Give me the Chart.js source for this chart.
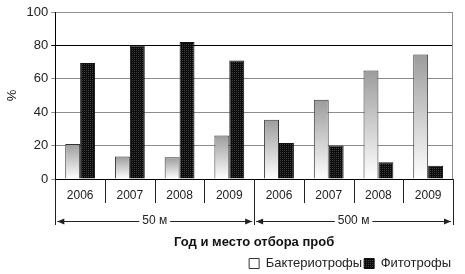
<!DOCTYPE html>
<html>
<head>
<meta charset="UTF-8">
<title>Бактериотрофы и фитотрофы</title>
<script src="https://cdn.jsdelivr.net/npm/chart.js@4/dist/chart.umd.min.js"></script>
<style>
    body { margin: 0; background: #fff; }
    #wrap { width: 465px; height: 274px; }
</style>
</head>
<body>
<div id="wrap"><canvas id="myChart"></canvas></div>
<script>
    var years = ['2006', '2007', '2008', '2009', '2006', '2007', '2008', '2009'];
    var places = ['50 м', '500 м'];
    var bacterio = [21, 13.5, 13, 26, 35.5, 47.5, 65, 74.5];
    var phyto = [69.5, 80, 82, 71, 21.5, 20, 10, 8];
    var yTicks = [0, 20, 40, 60, 80, 100];

    var font = 'Liberation Sans, Arial, sans-serif';
    var canvas = document.getElementById('myChart');
    var c2d = canvas.getContext('2d');

    // dotted black fill for the phyto bars
    function makePattern() {
        var p = document.createElement('canvas');
        p.width = 2; p.height = 2;
        var g = p.getContext('2d');
        g.fillStyle = '#0c0c0c';
        g.fillRect(0, 0, 2, 2);
        g.fillStyle = '#3c3c3c';
        g.fillRect(0, 0, 1, 1);
        return c2d.createPattern(p, 'repeat');
    }
    var phytoFill = makePattern();

    function bacterioFill(ctx) {
        var chart = ctx.chart;
        if (ctx.type !== 'data' || !chart.chartArea) return '#e6e6e6';
        var y = chart.scales.y;
        var top = y.getPixelForValue(ctx.raw);
        var bottom = y.getPixelForValue(0);
        var g = chart.ctx.createLinearGradient(0, top, 0, bottom);
        g.addColorStop(0, '#9c9c9c');
        g.addColorStop(1, '#ffffff');
        return g;
    }

    function line(ctx, x0, y0, x1, y1) {
        ctx.beginPath();
        ctx.moveTo(x0, y0);
        ctx.lineTo(x1, y1);
        ctx.stroke();
    }

    function arrowHead(ctx, x, y, dir) {
        ctx.beginPath();
        ctx.moveTo(x, y);
        ctx.lineTo(x - dir * 7, y - 3);
        ctx.lineTo(x - dir * 7, y + 3);
        ctx.closePath();
        ctx.fill();
    }

    var groupsPlugin = {
        id: 'groups',
        afterDraw: function (chart) {
            var x = chart.scales.x, ctx = chart.ctx, area = chart.chartArea;
            var n = years.length, per = n / places.length;
            var half = (x.getPixelForValue(1) - x.getPixelForValue(0)) / 2;
            function edge(i) {
                return i < n ? x.getPixelForValue(i) - half : x.getPixelForValue(n - 1) + half;
            }
            ctx.save();
            ctx.lineWidth = 1;
            ctx.strokeStyle = '#8c8c8c';
            line(ctx, Math.round(area.right) - 0.5, area.top, Math.round(area.right) - 0.5, area.bottom);

            ctx.strokeStyle = '#222';
            for (var i = 0; i <= n; i++) {
                var px = Math.round(edge(i)) + 0.5;
                var len = (i % per === 0) ? 46 : 24;
                line(ctx, px, area.bottom, px, area.bottom + len);
            }

            var ya = Math.round(area.bottom + 42) + 0.5;
            ctx.fillStyle = '#222';
            ctx.font = '12px ' + font;
            ctx.textAlign = 'center';
            ctx.textBaseline = 'middle';
            for (var g = 0; g < places.length; g++) {
                var x0 = edge(g * per) + 2, x1 = edge((g + 1) * per) - 2;
                var mid = (x0 + x1) / 2;
                var w = ctx.measureText(places[g]).width;
                line(ctx, x0, ya, mid - w / 2 - 3, ya);
                line(ctx, mid + w / 2 + 3, ya, x1, ya);
                arrowHead(ctx, x0, ya, -1);
                arrowHead(ctx, x1, ya, 1);
                ctx.fillText(places[g], mid, ya - 1);
            }
            ctx.restore();
        }
    };

    new Chart(canvas, {
        type: 'bar',
        data: {
            labels: years,
            datasets: [{
                label: 'Бактериотрофы',
                data: bacterio,
                backgroundColor: bacterioFill,
                borderColor: '#333',
                borderWidth: 1
            }, {
                label: 'Фитотрофы',
                data: phyto,
                backgroundColor: phytoFill,
                borderColor: '#111',
                borderWidth: 1
            }]
        },
        options: {
            responsive: true,
            maintainAspectRatio: false,
            animation: false,
            datasets: { bar: { categoryPercentage: 0.6, barPercentage: 1 } },
            layout: { padding: { top: 12, right: 12, left: 2, bottom: -6 } },
            scales: {
                x: {
                    grid: { display: false, drawTicks: false },
                    border: { color: '#000', width: 1 },
                    ticks: { font: { family: font, size: 12 }, color: '#222', padding: 9, autoSkip: false, maxRotation: 0 },
                    title: {
                        display: true, text: 'Год и место отбора проб', color: '#111',
                        font: { family: font, size: 13, weight: 'bold' }, padding: { top: 23, bottom: 5 }
                    }
                },
                y: {
                    min: yTicks[0], max: yTicks[yTicks.length - 1],
                    afterBuildTicks: function (s) { s.ticks = yTicks.map(function (v) { return { value: v }; }); },
                    grid: {
                        color: function (c) { return c.tick && c.tick.value === 80 ? '#000' : '#8c8c8c'; },
                        tickLength: 4
                    },
                    border: { color: '#000', width: 1 },
                    ticks: { font: { family: font, size: 13 }, color: '#222', padding: 3 },
                    title: { display: true, text: '%', color: '#111', font: { family: font, size: 13 }, padding: 3 }
                }
            },
            plugins: {
                legend: {
                    position: 'bottom', align: 'end',
                    labels: { boxWidth: 10, boxHeight: 10, font: { family: font, size: 13 }, color: '#222', padding: 2 }
                },
                tooltip: { enabled: false }
            }
        },
        plugins: [groupsPlugin]
    });
</script>
</body>
</html>
